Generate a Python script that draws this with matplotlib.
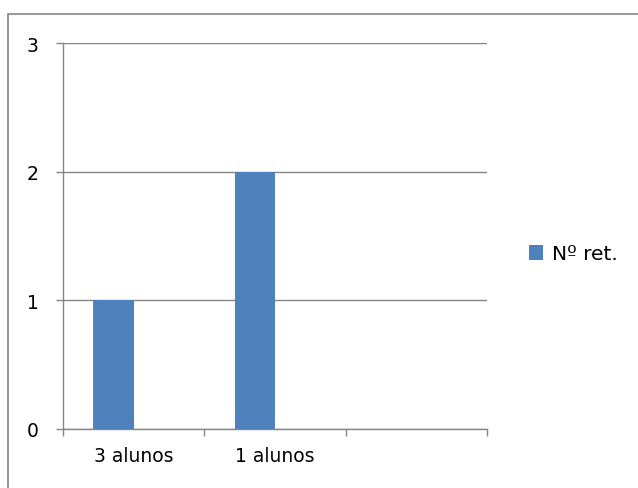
import numpy as np
import matplotlib.pyplot as plt
from matplotlib.patches import Rectangle

categories = ["3 alunos", "1 alunos", ""]
values = [1, 2, np.nan]
series_name = "Nº ret."

plt.rcParams['font.family'] = ['DejaVu Sans']

fig = plt.figure(figsize=(6.38, 4.89), dpi=100)
ax = fig.add_axes([63/638, 1 - 430/489, (487-63)/638, (430-44)/489])

grey = "#868686"
blue = "#4F81BD"
fs = 13.5

x = np.arange(len(categories))
bar_w = 1 / 3.5  # clustered layout: 2 series, 150% gap
ax.bar(x - bar_w, values, width=bar_w, align='edge', color=blue, label=series_name, zorder=3)

ax.set_xlim(-0.5, len(categories) - 0.5)
ax.set_ylim(0, 3)
ax.set_yticks([0, 1, 2, 3])
ax.set_yticklabels(["0", "1", "2", "3"], fontsize=fs)
ax.yaxis.grid(True, color=grey, linewidth=1.0)
ax.set_axisbelow(True)

# category labels centred, tick marks on the category boundaries
ax.set_xticks(x)
ax.set_xticklabels(categories, fontsize=fs)
ax.tick_params(axis='x', which='major', length=0, pad=12.5)
ax.set_xticks(np.arange(len(categories) + 1) - 0.5, minor=True)
ax.tick_params(axis='x', which='minor', length=5, color=grey, width=1, direction='out')
ax.tick_params(axis='y', length=5, color=grey, width=1, direction='out', pad=12.5)

for side in ('top', 'right'):
    ax.spines[side].set_visible(False)
for side in ('left', 'bottom'):
    ax.spines[side].set_color(grey)
    ax.spines[side].set_linewidth(1.0)

leg = fig.legend(loc='center left', bbox_to_anchor=(529/638, 1 - 255/489),
                 frameon=False, fontsize=14.5, handlelength=0.7, handleheight=0.7,
                 handletextpad=0.45, borderpad=0, borderaxespad=0)

# chart area frame
fig.patches.append(Rectangle((8/638, -0.1), 1.2, 1 - 15/489 + 0.1,
                             transform=fig.transFigure, fill=False,
                             edgecolor=grey, linewidth=1.2))

fig.savefig("out.png", dpi=100)
